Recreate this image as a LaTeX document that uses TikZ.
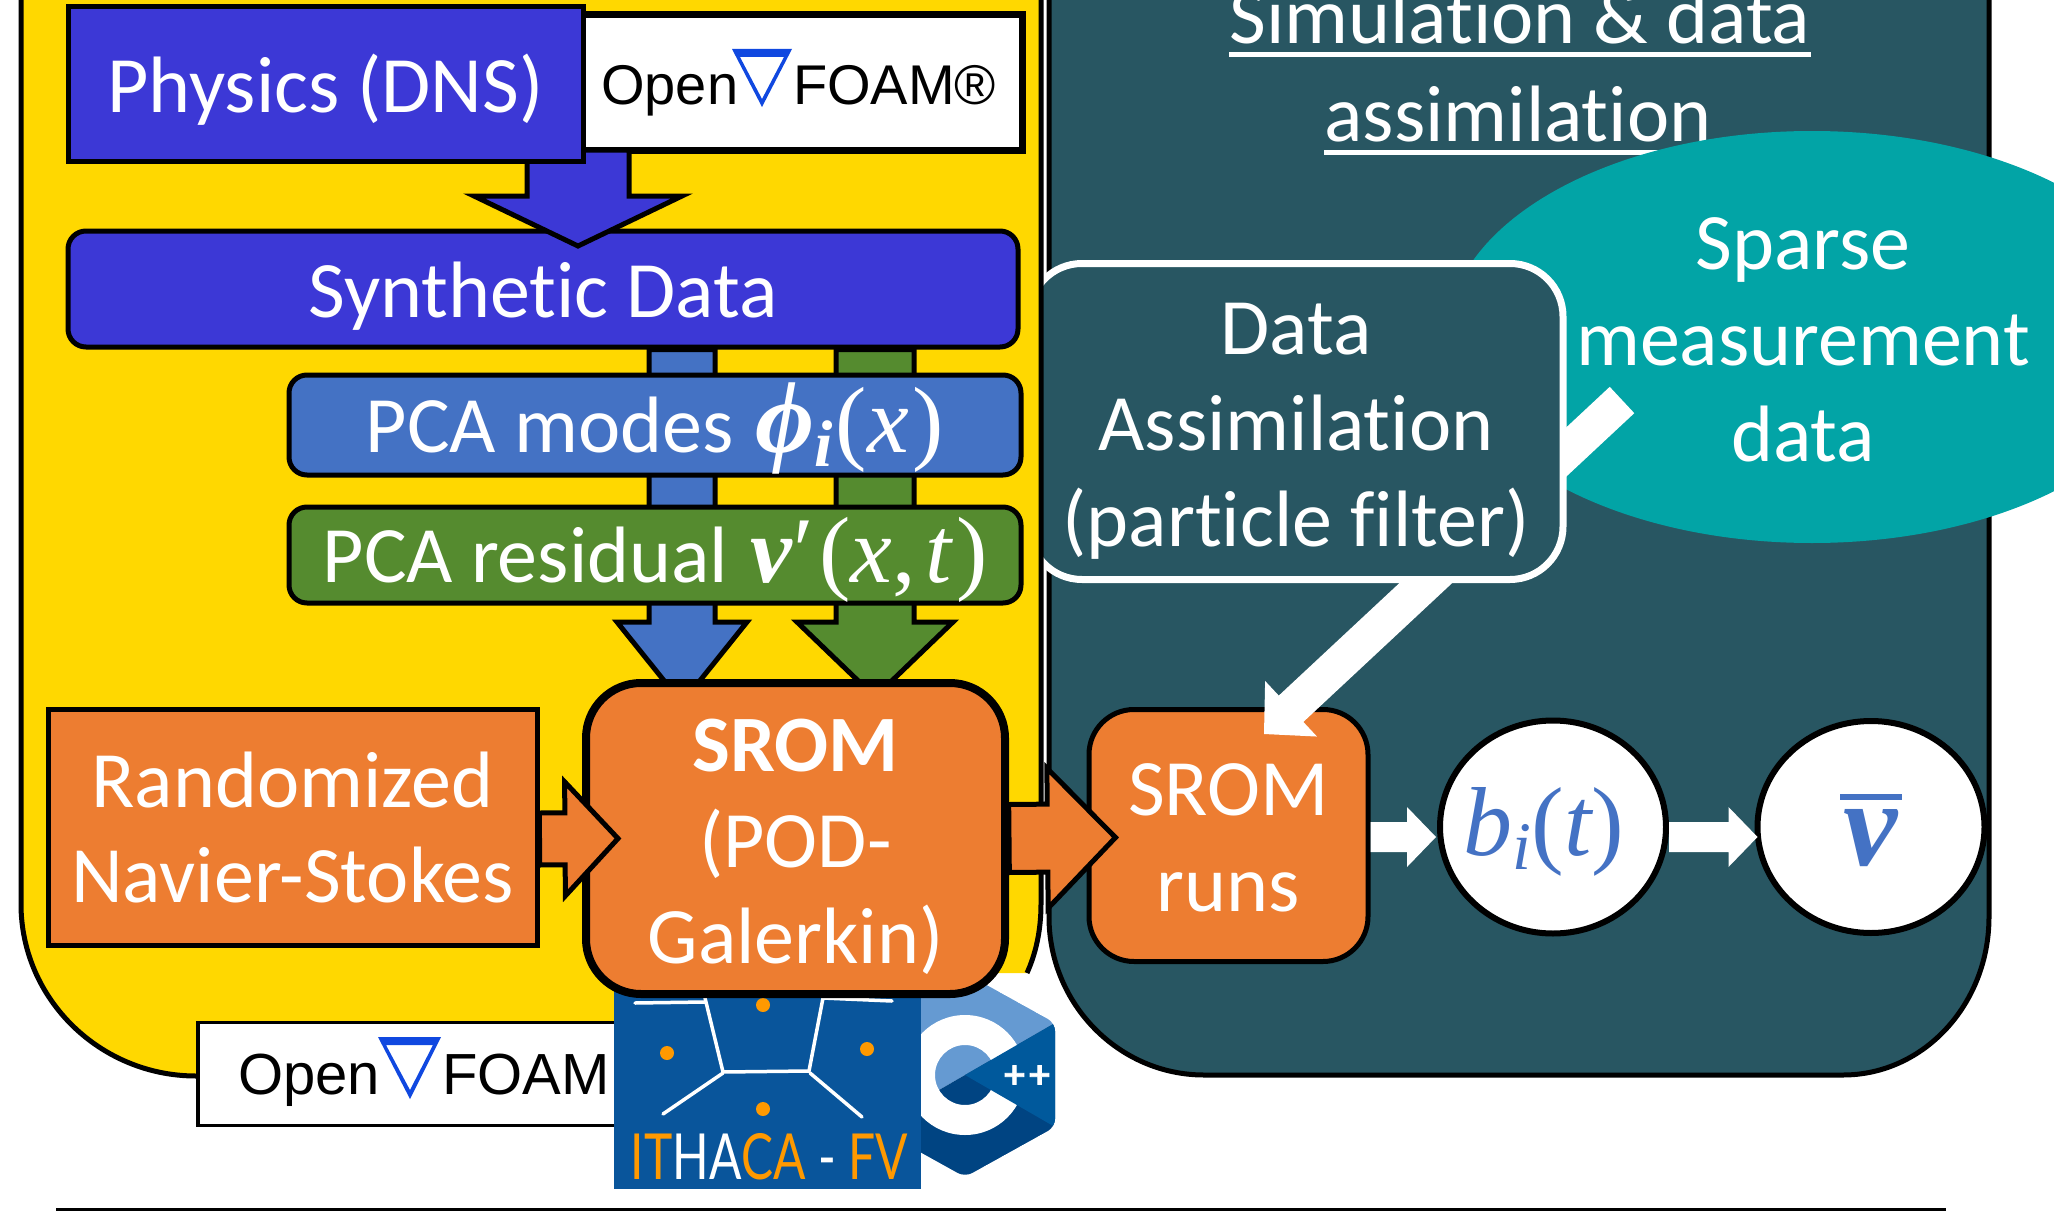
\documentclass[tikz,border=0pt]{standalone}
\usepackage{fontspec}
\usepackage{graphicx}
\usetikzlibrary{calc,shapes.geometric}
\setmainfont[RawFeature={-liga;-clig;-dlig}]{Carlito}
\newfontfamily\mt{Liberation Serif}
\newfontfamily\foam{Liberation Sans}
\newfontfamily\ithaca{Lato}
\newfontfamily\cppf[UprightFont={* Bold},FakeBold=3]{DejaVu Sans}
\definecolor{cindigo}{HTML}{3C38D6}
\definecolor{cyellow}{HTML}{FFD800}
\definecolor{cdark}{HTML}{285662}
\definecolor{cteal}{HTML}{02A4A6}
\definecolor{corange}{HTML}{ED7D31}
\definecolor{cblue}{HTML}{4472C4}
\definecolor{cgreen}{HTML}{558B2F}
\definecolor{cfoam}{HTML}{1048E0}
\definecolor{cith}{HTML}{09559B}
\definecolor{cithd}{HTML}{FF9900}
\definecolor{cpl}{HTML}{659AD2}
\definecolor{cpm}{HTML}{00599C}
\definecolor{cpd}{HTML}{004482}
\tikzset{
  bl/.style={text height=#1*2pt, text depth=0pt},
  txt/.style={font=\fontsize{80}{96}\selectfont, text=white, align=center, inner sep=0pt},
  boxbase/.style={draw=black, inner sep=0pt, align=center, text=white, font=\fontsize{80}{96}\selectfont},
  sqbox/.style={boxbase, line width=5pt},
  rbox/.style={boxbase, line width=5pt, rounded corners=18pt},
  ell/.style={ellipse, draw=black, line width=6pt, fill=white, inner sep=0pt, text=cblue},
  outl/.style={draw=black, line width=5pt, line join=miter, miter limit=10},
  whitearrow/.style={fill=white, draw=none},
  foamtxt/.style={text=black, inner sep=0pt, anchor=base west},
  ithline/.style={draw=white, line width=3.5pt, line cap=round},
}
% [style]{start}{tip}{shaft half width}{head half width}{head length}
\newcommand\blockarrow[6]{%
  \coordinate (bas) at #2; \coordinate (bat) at #3;
  \coordinate (bab) at ($(bat)!#6pt!(bas)$);
  \path[#1] ($(bas)!#4pt!90:(bat)$) -- ($(bab)!#4pt!90:(bat)$) -- ($(bab)!#5pt!90:(bat)$) -- (bat)
    -- ($(bab)!#5pt!-90:(bat)$) -- ($(bab)!#4pt!-90:(bat)$) -- ($(bas)!#4pt!-90:(bat)$) -- cycle;
}
\newcommand\nablamark[6]{%
  \fill[cfoam,even odd rule] (#1,#2) -- (#3,#2) -- (#4,#5) -- cycle
    (#1+8,#2+8) -- (#3-8,#2+8) -- (#4,#5-#6) -- cycle;
}
\newcommand\msz[1]{\fontsize{#1}{#1}\selectfont}
\newcommand\mi[1]{{\mt\itshape #1}}
\newcommand\mb[1]{{\mt\bfseries\itshape #1}}
\newcommand\mr[1]{{\mt #1}}
\newcommand\lft[1]{\makebox[0pt]{#1\kern 18pt}}
\begin{document}
\begin{tikzpicture}[x=1pt,y=-1pt]
\path[use as bounding box,clip] (0,0) rectangle (2054,1215);
\fill[white] (0,0) rectangle (2054,1215);

% dark panel
\path[fill=cdark,draw=black,line width=5pt] (1049,-20) -- (1049,917)
  .. controls (1049,1004) and (1119,1075) .. (1204,1075) -- (1843,1075)
  .. controls (1924,1075) and (1989,1004) .. (1989,917) -- (1989,-20);

\node[txt,anchor=base] (title1) at (1520,44) {Simulation \& data};
\node[txt,anchor=base] (title2) at (1518,141) {assimilation};
\draw[white,line width=5pt] ($(title1.base west)+(0,11)$) -- ($(title1.base east)+(0,11)$);
\draw[white,line width=5pt] ($(title2.base west)+(0,11)$) -- ($(title2.base east)+(0,11)$);

% sparse data
\node[ellipse,fill=cteal,inner sep=0pt,minimum width=730pt,minimum height=412pt,
      txt,bl=124] (sparse) at (1812,337) {\lft{Sparse}\\\lft{measurement}\\\lft{data}};

% SROM runs and outputs
\node[sqbox,rounded corners=45pt,fill=corange,minimum width=279pt,minimum height=252pt,bl=76] (runs) at (1228.5,835.5) {SROM\\runs};
\node[ell,minimum width=226pt,minimum height=213pt,bl=28,font=\msz{98}] (bi) at (1553,827)
  {\makebox[0pt]{\mi{b}\raisebox{-14pt}{\msz{68}\mi{i}}\mr{(}\mi{t}\mr{)}\kern 18pt}};
\node[ell,minimum width=227pt,minimum height=212pt,bl=38,font=\msz{122}] (vbar) at (1871,827) {\mb{v}};
\draw[cblue,line width=6pt] ($(vbar.center)+(-31,-30)$) -- ($(vbar.center)+(31,-30)$);

\coordinate (dasrc) at (1622,400);
\coordinate (datip) at (1264,734);
\blockarrow{whitearrow}{(dasrc)}{(datip)}{18}{38}{37}
\blockarrow{whitearrow}{($(runs.east)+(0,1.5)$)}{($(bi.west)+(-1,10)$)}{15}{30}{29}
\blockarrow{whitearrow}{($(bi.east)+(0,10)$)}{($(vbar.west)+(3,10)$)}{15}{30}{29}

% data assimilation box
\node[boxbase,draw=white,line width=7pt,fill=cdark,rounded corners=53pt,minimum width=534pt,minimum height=316pt,bl=125]
  (da) at (1296,421.5) {Data\\Assimilation\\(particle filter)};

% yellow panel
\fill[cyellow] (21,-20) -- (21,904) .. controls (21,999) and (100,1076) .. (196,1076) -- (920,1076)
  -- (920,973) -- (1027,973) .. controls (1036,953) and (1041,930) .. (1041,904) -- (1041,-20) -- cycle;
\draw[black,line width=5pt] (21,-20) -- (21,904) .. controls (21,999) and (100,1076) .. (196,1076) -- (300,1076);
\draw[black,line width=5pt] (1041,-20) -- (1041,904) .. controls (1041,930) and (1036,953) .. (1027,973);

% OpenFOAM top
\node[draw=black,fill=white,line width=7pt,minimum width=466pt,minimum height=136pt,inner sep=0pt] (foamtop) at (789,82.5) {};
\node[foamtxt,font=\foam\fontsize{56}{56}\selectfont] (openA) at (601,104) {Open};
\nablamark{732}{49}{792}{762}{107}{8}
\node[foamtxt,font=\foam\fontsize{56}{56}\selectfont] (foamA) at (793,104) {FOAM®};

% synthetic data and arrows
\node[rbox,fill=cindigo,minimum width=950pt,minimum height=116pt,bl=28] (synth) at (543,289) {Synthetic Data};
\coordinate (toptip) at (578,246);
\blockarrow{outl,fill=cindigo}{(toptip |- 0,150)}{(toptip)}{51}{104}{50}
\node[sqbox,fill=cindigo,minimum width=515pt,minimum height=154pt,bl=28] (physics) at (325.5,84) {Physics (DNS)};

\coordinate (bluetip) at (682,703);
\coordinate (greentip) at (875,697);
\blockarrow{outl,fill=cblue}{(bluetip |- synth.south)}{(bluetip)}{33}{65}{81}
\blockarrow{outl,fill=cgreen}{(greentip |- synth.south)}{(greentip)}{39}{78}{75}

\node[rbox,fill=cblue,minimum width=732pt,minimum height=100pt,bl=27] (modes) at (655,425)
  {PCA modes\kern 4pt\ \mb{\msz{102}ϕ}\raisebox{-14pt}{\msz{66}\mb{i}}\kern 3pt\mr{\msz{94}(}\mi{\msz{94}x}\kern 4pt\mr{\msz{94})}};
\node[rbox,fill=cgreen,minimum width=732pt,minimum height=96pt,bl=27.5] (resid) at (655,555)
  {PCA residual\kern 4pt\ \mb{\msz{94}v}\kern 2pt\mr{\msz{94}′\kern 5pt(}\mi{\msz{94}x}\mr{\msz{94},\kern 10pt}\mi{\msz{94}t}\kern 4pt\mr{\msz{94})}};

% C++ logo
\begin{scope}
\clip[rounded corners=8pt] (965,973) -- (1055,1023) -- (1055,1127) -- (965,1177) -- (875,1127) -- (875,1023) -- cycle;
\fill[cpl] (965,973) -- (1055,1023) -- (875,1127) -- (875,1023) -- cycle;
\fill[cpd] (1055,1023) -- (1055,1127) -- (965,1177) -- (875,1127) -- cycle;
\fill[white,even odd rule] (965,1075) circle[radius=60pt] (965,1075) circle[radius=30pt];
\fill[cpm] (965,1075) -- (1055,1023) -- (1055,1127) -- cycle;
\end{scope}
\node[inner sep=0pt,text=white,font=\cppf\fontsize{30}{30}\selectfont] (cpp) at (1027,1075) {++};

% OpenFOAM bottom
\node[draw=black,fill=white,line width=3.5pt,minimum width=440pt,minimum height=103pt,inner sep=0pt] (foambot) at (418,1074) {};
\node[foamtxt,font=\foam\fontsize{58}{58}\selectfont] (openB) at (238,1094) {Open};
\nablamark{378}{1037}{441}{410}{1099}{9}
\node[foamtxt,font=\foam\fontsize{58}{58}\selectfont] (foamB) at (442,1094) {FOAM};

% ITHACA-FV logo
\fill[cith] (614,975) rectangle (921,1189);
\draw[ithline] (635,1003) -- (705,1002);
\draw[ithline] (705,998) -- (723,1072) -- (809,1071) -- (823,998) -- (892,1001);
\draw[ithline] (723,1073) -- (663,1114);
\draw[ithline] (810,1073) -- (862,1117);
\foreach \dx/\dy in {763/1005,667/1053,867/1049,763/1109}{\fill[cithd] (\dx,\dy) circle[radius=7pt];}
\node[inner sep=0pt] (ith) at (769.5,1157) {\resizebox{277pt}{46pt}{\ithaca\textcolor{cithd}{IT}\textcolor{white}{HA}\textcolor{cithd}{CA}\textcolor{white}{\ -\ }\textcolor{cithd}{FV}}};

% randomized NS and SROM
\node[sqbox,fill=corange,minimum width=489pt,minimum height=236pt,bl=75,font=\fontsize{80}{95}\selectfont] (rand) at (292.5,827) {Randomized\\Navier-Stokes};
\node[boxbase,line width=8pt,rounded corners=55pt,fill=corange,minimum width=419pt,minimum height=311pt,bl=125] (srom) at (795.5,838.5)
  {\textbf{SROM}\\(POD-\\Galerkin)};
\blockarrow{outl,fill=corange}{($(rand.east)+(0,12)$)}{($(srom.west)+(36,0)$)}{26}{57}{53}
\blockarrow{outl,fill=corange}{(srom.east)}{($(runs.west)+(29,2)$)}{34}{70}{68}

% rule at the foot
\coordinate (ruleA) at (56,1209);
\coordinate (ruleB) at (1946,1209);
\draw[black,line width=3pt] (ruleA) -- (ruleB);
\end{tikzpicture}
\end{document}
